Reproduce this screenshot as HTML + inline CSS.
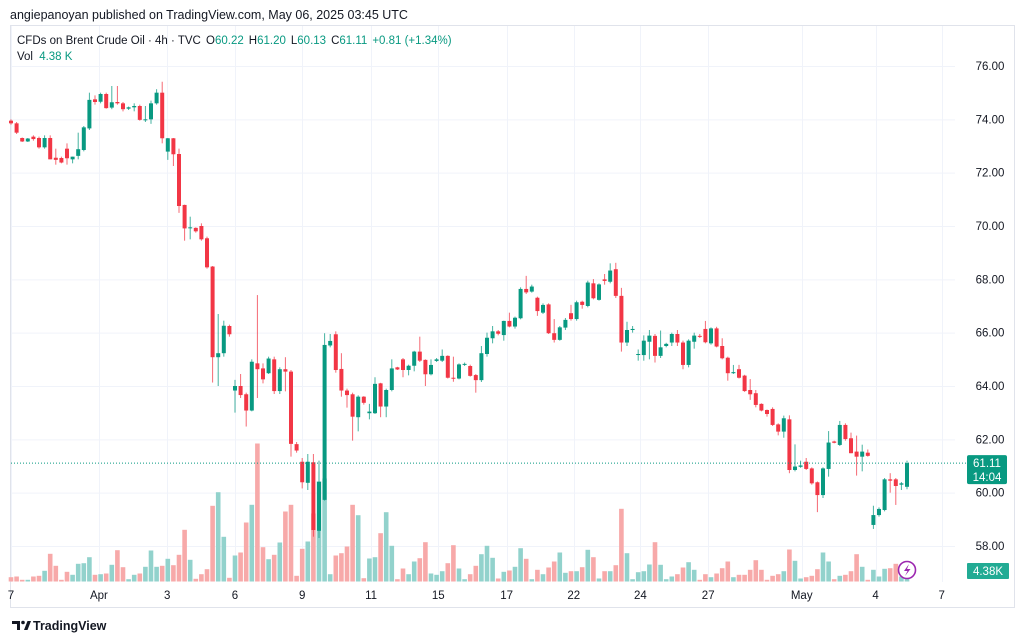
<!DOCTYPE html>
<html><head><meta charset="utf-8"><style>
html,body{margin:0;padding:0;background:#fff;width:1024px;height:641px;overflow:hidden}
svg{display:block;font-family:"Liberation Sans",sans-serif}
</style></head><body>
<svg id="chart" width="1024" height="641" viewBox="0 0 1024 641">
<rect x="0" y="0" width="1024" height="641" fill="#fff"/>
<text x="10" y="19" font-size="12.5" fill="#131722">angiepanoyan published on TradingView.com, May 06, 2025 03:45 UTC</text>
<rect x="10.5" y="25.5" width="1004" height="582" fill="none" stroke="#e0e3eb"/>
<g id="grid"></g>
<g id="vol"></g>
<g id="candles"></g>
<g id="axes"></g>
<text x="17" y="44" font-size="11.5" fill="#131722">CFDs on Brent Crude Oil · 4h · TVC <tspan dx="2">O</tspan><tspan fill="#089981">60.22</tspan><tspan dx="5">H</tspan><tspan fill="#089981">61.20</tspan><tspan dx="5">L</tspan><tspan fill="#089981">60.13</tspan><tspan dx="5">C</tspan><tspan fill="#089981">61.11</tspan><tspan dx="5" fill="#089981">+0.81 (+1.34%)</tspan></text>
<text x="17" y="60" font-size="11.5" fill="#131722">Vol <tspan dx="3" fill="#089981">4.38 K</tspan></text>
<g>
<circle cx="907" cy="570" r="8.5" fill="#fff" stroke="#9c27b0" stroke-width="1.6"/>
<path d="M909 564 L904 571 L907.5 571 L905 576 L910.5 569 L907 569 Z" fill="#9c27b0"/>
</g>
<g>
<path d="M12 621 h8 v9 h-3 v-6 h-5 z" fill="#131722"/>
<circle cx="23" cy="622.5" r="1.8" fill="#131722"/>
<path d="M24 630 l3.5 -9 h3.5 l-3.5 9 z" fill="#131722"/>
<text x="33" y="630" font-size="12.5" font-weight="bold" fill="#131722">TradingView</text>
</g>
</svg>
<script>
const opens=[73.95,73.85,73.3,73.17,73.35,73.3,72.95,73.3,72.56,72.55,72.9,72.5,72.63,72.85,73.66,74.75,74.66,74.95,74.44,74.65,74.6,74.4,74.45,74.5,73.98,74.0,74.6,75.0,72.79,73.29,72.7,70.79,69.92,69.93,70.0,69.54,68.48,65.08,65.23,66.25,63.83,64.0,63.69,63.08,64.85,64.66,64.48,65.0,63.81,64.63,64.54,61.82,61.16,60.37,61.14,58.57,59.73,65.52,65.94,64.64,63.83,63.69,62.83,63.6,62.98,62.98,64.1,63.23,63.85,64.7,65.0,64.6,64.76,65.29,64.98,64.44,64.94,64.95,65.13,64.31,64.28,64.8,64.75,64.41,64.22,65.2,65.79,66.05,65.91,66.44,66.23,66.54,67.64,67.54,67.31,66.75,67.06,65.98,65.73,66.19,66.73,66.51,67.16,67.0,67.85,67.23,68.0,67.91,68.38,67.38,65.63,66.1,65.17,65.16,65.66,65.88,65.13,65.5,65.63,65.95,65.63,64.79,65.66,65.88,66.14,65.6,66.16,65.5,65.06,64.48,64.63,64.39,63.85,63.73,63.33,63.1,63.14,62.56,62.29,62.75,60.85,60.97,61.16,60.91,60.39,59.91,60.89,61.92,61.79,62.54,62.04,61.54,61.35,61.5,58.79,59.16,59.35,60.5,60.5,60.3,60.22];
const highs=[74.0,73.9,73.32,73.3,73.4,73.35,73.4,73.4,72.9,72.6,73.1,72.6,73.5,73.75,75.0,74.9,75.0,75.0,75.25,75.25,74.65,74.48,74.6,74.55,74.5,74.7,75.13,75.41,73.3,73.3,72.9,70.8,70.35,69.95,70.1,69.6,68.5,66.7,66.45,66.3,64.23,64.45,63.75,65.0,67.41,64.85,65.1,65.1,64.7,65.08,64.6,61.9,61.3,61.45,61.45,61.2,65.98,65.95,66.05,65.23,63.9,63.75,63.65,63.62,63.33,64.33,64.12,63.9,65.0,64.72,65.05,64.8,65.32,65.85,65.0,65.0,65.05,65.37,65.15,65.1,64.85,64.88,64.8,64.45,65.5,66.0,66.25,66.1,66.45,66.75,66.6,67.7,68.13,67.8,67.35,67.1,67.1,66.51,66.25,66.55,67.04,67.2,67.2,67.95,68.01,67.85,68.2,68.6,68.62,67.68,66.41,66.25,65.37,65.9,66.1,65.95,66.08,65.62,66.0,66.1,65.7,65.75,66.0,65.95,66.44,66.2,66.22,65.79,65.1,64.79,64.79,64.42,64.26,63.85,63.35,63.12,63.2,62.6,62.89,62.9,61.81,61.2,61.3,60.95,60.42,60.95,62.31,61.95,62.69,62.6,62.25,62.14,61.8,61.62,59.51,59.45,60.55,60.73,60.55,60.4,61.2];
const lows=[73.8,73.45,73.15,73.15,73.2,72.9,72.9,72.5,72.3,72.35,72.3,72.35,72.5,72.8,73.6,74.55,74.6,74.4,74.38,74.55,74.3,74.35,74.3,73.95,73.9,73.83,74.55,73.1,72.48,72.25,70.49,69.45,69.5,69.75,69.45,68.4,64.13,64.0,65.1,65.85,63.0,63.55,62.48,63.05,63.55,64.1,64.45,63.7,63.7,63.8,61.35,61.5,60.16,60.1,58.35,58.3,59.7,65.45,64.5,63.6,63.19,61.95,62.3,63.3,62.75,62.95,62.83,62.83,63.8,64.6,64.33,64.4,64.55,64.9,64.0,64.4,64.9,64.9,64.28,64.16,64.25,64.75,64.35,63.75,64.15,65.1,65.6,65.9,65.7,66.2,66.15,66.5,67.45,67.5,66.63,66.7,65.95,65.63,65.7,66.1,66.45,66.45,66.9,66.95,67.25,67.2,67.8,67.85,67.3,65.29,65.5,66.0,64.95,64.95,65.0,64.88,65.05,65.45,65.5,65.5,64.63,64.7,65.4,65.8,65.6,65.55,65.45,65.0,64.2,64.45,64.28,63.78,63.48,63.2,63.05,62.85,62.5,62.15,62.06,60.73,60.8,60.93,60.85,60.3,59.27,59.8,60.6,61.85,61.75,61.95,61.48,60.64,60.8,61.35,58.64,59.1,59.3,60.0,59.54,60.1,60.13];
const closes=[73.85,73.5,73.17,73.28,73.26,72.95,73.3,72.5,72.48,72.38,72.54,72.6,72.88,73.7,74.73,74.65,74.95,74.42,74.64,74.6,74.38,74.45,74.5,73.98,74.0,74.6,75.0,73.29,73.29,72.69,70.75,69.91,69.95,69.8,69.5,68.45,65.08,65.23,66.26,65.94,64.0,63.66,63.08,64.91,64.63,64.25,65.03,63.81,64.63,64.54,61.83,61.58,60.39,61.16,58.6,60.41,65.54,65.69,64.6,63.83,63.66,62.85,63.6,63.37,63.04,64.08,63.23,63.85,64.66,64.62,64.6,64.76,65.29,64.95,64.44,64.79,65.0,65.13,64.31,64.28,64.81,64.83,64.38,64.22,65.23,65.81,66.05,65.96,66.44,66.23,66.56,67.64,67.51,67.73,66.81,67.04,65.98,65.73,66.2,66.48,66.51,67.14,67.04,67.88,67.29,67.81,67.94,68.33,67.38,65.63,66.1,66.14,65.2,65.7,65.89,65.13,65.45,65.58,65.95,65.63,64.79,65.7,65.89,65.85,65.64,66.16,65.48,65.04,64.48,64.52,64.31,63.81,63.69,63.29,63.08,62.95,62.54,62.29,62.79,60.85,60.98,61.02,60.89,60.35,59.91,60.91,61.88,61.87,62.54,62.01,61.48,61.35,61.54,61.38,59.16,59.39,60.5,60.45,60.25,60.35,61.11];
const volumes=[4.3,5,1.7,1.7,5,5.7,10.7,27.7,15.7,1.7,9.7,6.7,17.7,18.3,24.3,6.7,7.3,8,16.7,31.3,14.3,2.3,6.7,8,14.7,31,14.7,15.7,22.7,16.3,26.7,51.7,21.7,2.7,7.3,12.3,75.7,89.3,44.7,3.7,26,29,59,76.7,138,34.3,22.3,26.7,39,70,76.7,5.7,32.7,40,68,100,103,7.3,26,28.3,35,76.7,66.3,3.3,23,24.3,48.3,69.3,35.7,2.3,13,7.3,20,23.3,39.3,8,6.7,10.3,18.3,36.3,13,2.3,7.3,15.7,27.3,35.7,23.7,3,9.7,11,14.7,33.3,22.7,2.3,11.7,7.3,14,20,29,8.7,10.3,10.3,14.3,31.7,24.3,3,10.3,10.3,16.3,72.7,28.3,2.3,9.3,10.3,17,39.3,16.7,2.3,5,7.3,14,19.3,11.7,1.7,7.3,4.3,8,13.3,20,4.3,6.7,6.7,11.7,21.3,11.7,1.7,5.7,7.3,10.3,32,20.7,3,4.3,5.7,12.3,29,20,2.3,5.7,6.7,10.3,27.3,14.7,1.7,11.7,5,12.7,13.3,17.7,5,4.3];
const priceTicks=[76,74,72,70,68,66,64,62,60,58];
const dateLabels=["7","Apr","3","6","9","11","15","17","22","24","27","May","4","7"];
const dateIndex=[0,15.7,27.9,40,52,64.3,76.3,88.5,100.5,112.4,124.5,141.2,154.4,166.2];
const lastPrice=61.11, lastVol=4.38;

const NS="http://www.w3.org/2000/svg";
function X(i){return 11+5.6*i;}
function Y(p){return 66+(76-p)*26.667;}
function V(v){return v*1.0;}
const VBASE=581.5;
function mk(tag,attrs,parent){const e=document.createElementNS(NS,tag);for(const k in attrs)e.setAttribute(k,attrs[k]);parent.appendChild(e);return e;}
const grid=document.getElementById('grid'),vol=document.getElementById('vol'),cg=document.getElementById('candles'),ax=document.getElementById('axes');

priceTicks.forEach(function(p){
  const l=mk('line',{x1:11,x2:955,y1:Y(p)+0.5,y2:Y(p)+0.5,stroke:'#f0f3fa'},grid);
  
  
  const t=mk('text',{x:990,y:Y(p)+4,'font-size':11.5,fill:'#131722','text-anchor':'middle'},ax);
  t.textContent=p.toFixed(2);
  
  
});
dateLabels.forEach(function(d,k){
  const x=X(dateIndex[k]);
  const l=mk('line',{x1:Math.round(x)+0.5,x2:Math.round(x)+0.5,y1:26,y2:582,stroke:'#f0f3fa'},grid);
  
  
  const t=mk('text',{x:x,y:599,'font-size':11.5,fill:'#131722','text-anchor':'middle'},ax);
  t.textContent=d;
  
  
});

volumes.forEach(function(v,i){
  const up=closes[i]>=opens[i];
  const h=V(v);
  const r=mk('rect',{x:X(i)-2.3,y:VBASE-h,width:4.6,height:h,fill:up?'#92d2cc':'#f7a9a9'},vol);
  
  
});

opens.forEach(function(o,i){
  const c=closes[i],up=c>=o,col=up?'#089981':'#f23645';
  const g=mk('g',{},cg);
  
  
  mk('line',{x1:X(i),x2:X(i),y1:Y(highs[i]),y2:Y(lows[i]),stroke:col,'stroke-width':1,opacity:0.75},g);
  const top=Y(Math.max(o,c)),bh=Math.max(1,Math.abs(Y(o)-Y(c)));
  mk('rect',{x:X(i)-2,y:top,width:4,height:bh,fill:col},g);
});

const ly=Y(lastPrice);
const pl=mk('line',{x1:11,x2:967,y1:ly,y2:ly,stroke:'#089981','stroke-width':1,'stroke-dasharray':'1,2'},ax);


const pb=mk('rect',{x:967,y:ly-8,width:40,height:29,rx:2,fill:'#089981'},ax);


const pt=mk('text',{x:987,y:ly+4,'font-size':11.5,fill:'#fff','text-anchor':'middle'},ax);
pt.textContent=lastPrice.toFixed(2);


const ct=mk('text',{x:987,y:ly+18,'font-size':11.5,fill:'#fff','text-anchor':'middle'},ax);
ct.textContent='14:04';


const vb=mk('rect',{x:967,y:563,width:42,height:16,rx:1,fill:'#22ab94'},ax);


const vt=mk('text',{x:988,y:575,'font-size':11.5,fill:'#fff','text-anchor':'middle'},ax);
vt.textContent=lastVol.toFixed(2)+'K';


</script>
</body></html>
